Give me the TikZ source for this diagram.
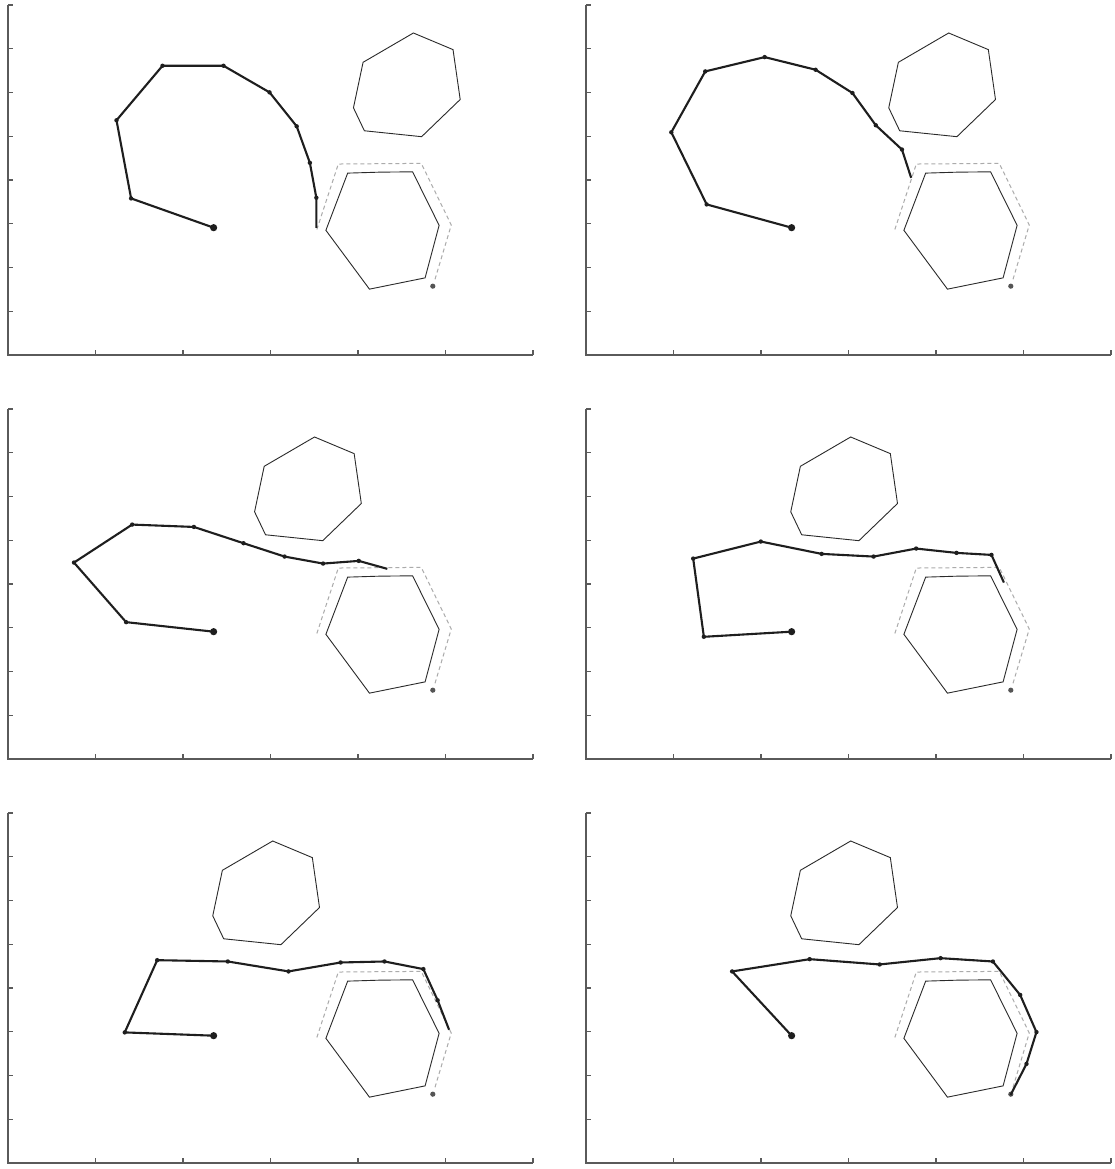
\documentclass[tikz,border=0pt]{standalone}
\usepackage{tikz}
\definecolor{axisgray}{HTML}{5A5A5A}
\definecolor{armcol}{HTML}{1E1E1E}
\definecolor{obstcol}{HTML}{2A2A2A}
\definecolor{dashcol}{HTML}{ABABAB}
\definecolor{goalcol}{HTML}{555555}
\tikzset{
  axisline/.style={draw=axisgray, line width=0.65pt},
  obst/.style={draw=obstcol, line width=0.45pt, line join=miter},
  pathdash/.style={draw=dashcol, line width=0.5pt, dash pattern=on 2pt off 1.5pt},
  armline/.style={draw=armcol, line width=1.05pt, line join=round},
  joint/.style={fill=armcol},
  goaldot/.style={fill=goalcol}
}
\newcommand\armpanel[4]{%
\begin{scope}[shift={#1},x=43.75pt,y=21.875pt]
  % axes
  \draw[axisline] (0,8) -- (0,0) -- (6,0);
  \foreach \k in {1,...,8} \draw[axisline] (0,\k) -- ++(2.5pt,0);
  \foreach \k in {1,...,6} \draw[axisline] (\k,0) -- ++(0,2.5pt);
  % moving obstacle (heptagon)
  \begin{scope}[shift={(#2,7.36)}]
    \draw[obst] (0,0) -- (0.453,-0.38) -- (0.535,-1.52) -- (0.094,-2.37)
      -- (-0.56,-2.235) -- (-0.685,-1.71) -- (-0.575,-0.67) -- cycle;
  \end{scope}
  % fixed obstacle
  \draw[obst] (3.882,4.157) -- (4.245,4.179) -- (4.624,4.187) -- (4.927,2.964)
    -- (4.767,1.763) -- (4.131,1.505) -- (3.633,2.850) -- cycle;
  % planned path
  \draw[pathdash] (3.53,2.87) -- (3.775,4.365) -- (4.723,4.38) -- (5.066,2.971) -- (4.88,1.73);
  % goal
  \coordinate (#3-goal) at (4.855,1.573);
  \fill[goaldot] (#3-goal) circle (1.3pt);
  % arm
  \foreach \x/\y [count=\i] in {#4} {\coordinate (#3-\i) at (\x,\y);}
  \draw[armline] (#3-1) \foreach \i in {2,...,10}{ -- (#3-\i)};
  \foreach \i in {2,...,9} \fill[joint] (#3-\i) circle (1.1pt);
  \fill[joint] (#3-1) circle (1.8pt);
\end{scope}}
\begin{document}
\begin{tikzpicture}
\useasboundingbox (0,0) rectangle (557.5pt,584.5pt);
\fill[white] (0,0) rectangle (557.5pt,584.5pt);
\armpanel{(4pt,407pt)}{4.633}{a}{2.35/2.91, 1.407/3.579, 1.240/5.365, 1.766/6.611, 2.463/6.611, 2.989/6.003, 3.299/5.228, 3.450/4.392, 3.524/3.594, 3.524/2.903}
\armpanel{(293pt,407pt)}{4.145}{b}{2.35/2.91, 1.379/3.442, 0.975/5.091, 1.363/6.482, 2.042/6.809, 2.624/6.520, 3.045/5.988, 3.312/5.251, 3.611/4.696, 3.716/4.050}
\armpanel{(4pt,205pt)}{3.503}{c}{2.35/2.91, 1.350/3.128, 0.754/4.490, 1.419/5.358, 2.125/5.304, 2.692/4.932, 3.161/4.627, 3.601/4.467, 4.009/4.528, 4.335/4.346}
\armpanel{(293pt,205pt)}{3.025}{d}{2.35/2.91, 1.347/2.793, 1.225/4.581, 1.998/4.970, 2.693/4.688, 3.287/4.627, 3.773/4.810, 4.234/4.711, 4.634/4.665, 4.776/4.033}
\armpanel{(4pt,3pt)}{3.025}{e}{2.35/2.91, 1.334/2.985, 1.705/4.636, 2.512/4.606, 3.206/4.379, 3.801/4.583, 4.303/4.606, 4.747/4.432, 4.910/3.720, 5.041/3.045}
\armpanel{(293pt,3pt)}{3.025}{f}{2.35/2.91, 1.670/4.379, 2.556/4.659, 3.356/4.538, 4.052/4.682, 4.650/4.606, 4.962/3.841, 5.148/2.992, 5.034/2.265, 4.852/1.553}
\end{tikzpicture}
\end{document}
